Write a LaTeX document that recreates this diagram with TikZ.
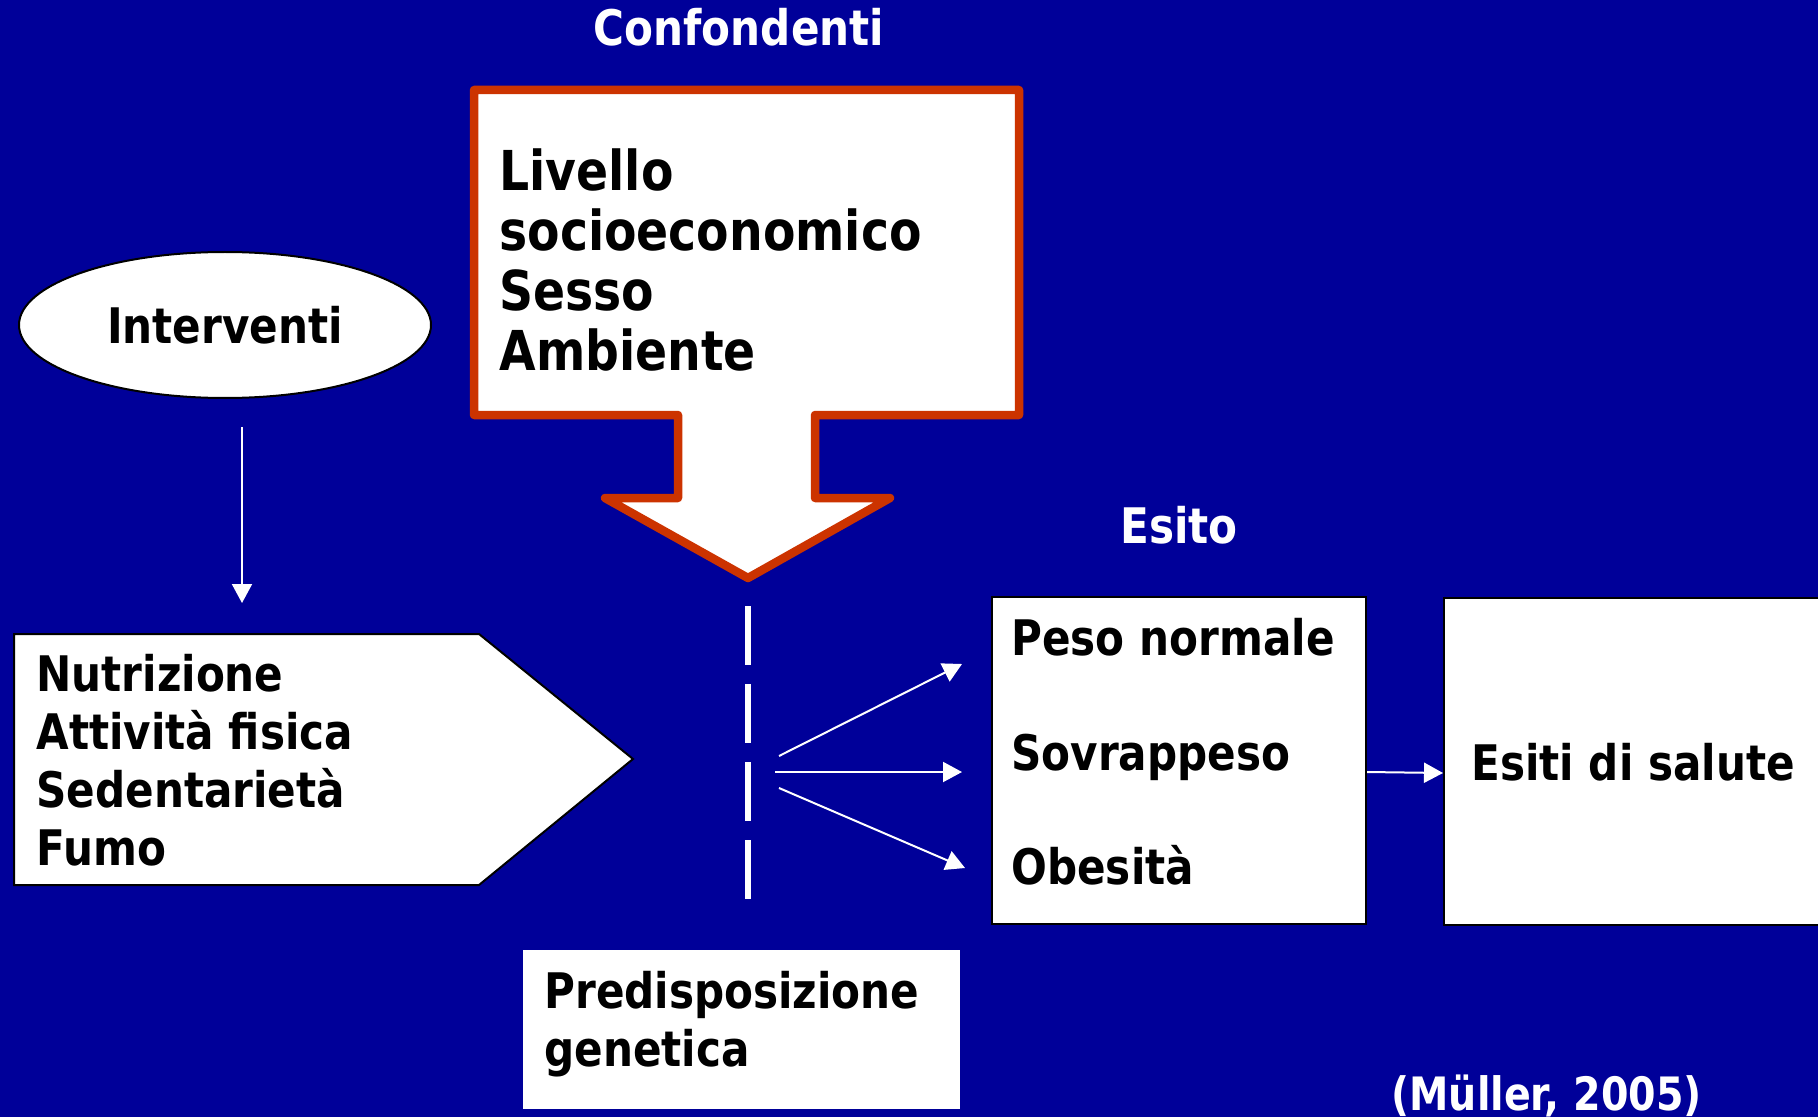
\documentclass[tikz,border=0pt]{standalone}
\usepackage{fontspec}
\setmainfont{DejaVu Sans}[FakeStretch=0.86]
\usetikzlibrary{arrows.meta,shapes.geometric}

\definecolor{slideblue}{RGB}{0,0,153}
\definecolor{confred}{RGB}{204,51,0}

\tikzset{
	txt/.style={font=\bfseries\fontsize{24.5pt}{29pt}\selectfont, inner sep=0pt, align=left},
	wtxt/.style={txt, text=white},
	box/.style={draw=black, line width=1pt, fill=white},
	arr/.style={draw=white, line width=1pt, -{Triangle[length=9.5pt,width=10pt]}},
}

\begin{document}
\begin{tikzpicture}[x=0.5pt, y=-0.5pt]

	% slide background
	\fill[slideblue] (0,0) rectangle (1818,1117);
	\useasboundingbox (0,0) rectangle (1818,1117);

	% titles
	\node[wtxt, anchor=base] (conf) at (739,46) {Confondenti};
	\node[wtxt, anchor=base] (esitolab) at (1179,543) {Esito};

	% confounders arrow
	\draw[confred, line width=4.25pt, fill=white, line join=round]
	(474,90) -- (1019,90) -- (1019,415) -- (815,415) -- (815,498)
	-- (890,498) -- (748,578) -- (605,498) -- (678,498) -- (678,415)
	-- (474,415) -- cycle;
	% base anchor sits on the last line
	\node[txt, font=\bfseries\fontsize{27.5pt}{30pt}\selectfont, anchor=base west]
	(conftxt) at (499,371) {Livello\\socioeconomico\\Sesso\\Ambiente};

	% interventions
	\node[box, ellipse, minimum width=206pt, minimum height=73pt, txt]
	(interv) at (225,325) {Interventi};
	\coordinate (iv1) at (242,427);
	\coordinate (iv2) at (242,603);
	\draw[arr] (iv1) -- (iv2);

	% exposure arrow
	\draw[box] (14,634) -- (479,634) -- (633,759) -- (479,885) -- (14,885) -- cycle;
	\node[txt, anchor=base west] (nutr) at (36,865)
	{Nutrizione\\Attività fisica\\Sedentarietà\\Fumo};

	% dashed barrier
	\coordinate (dl1) at (748,606);
	\coordinate (dl2) at (748,901);
	\draw[white, line width=3pt, dash pattern=on 29.5pt off 9.5pt] (dl1) -- (dl2);

	% outcome box
	\node[box, minimum width=187pt, minimum height=163.5pt, inner sep=0pt]
	(esito) at (1179,760.5) {};
	\node[txt, anchor=base west] (peso) at (1011,655) {Peso normale};
	\node[txt, anchor=base west] (sovr) at (1011,770) {Sovrappeso};
	\node[txt, anchor=base west] (obes) at (1011,884) {Obesità};

	% arrows to outcome
	\coordinate (s1) at (779,756);
	\coordinate (s2) at (775,772);
	\coordinate (s3) at (779,788);
	\coordinate (e1) at (962,664);
	\coordinate (e2) at (962,772);
	\coordinate (e3) at (965,868);
	\draw[arr] (s1) -- (e1);
	\draw[arr] (s2) -- (e2);
	\draw[arr] (s3) -- (e3);

	% health outcomes
	\node[box, anchor=north west, minimum width=200pt, minimum height=163.5pt, inner sep=0pt]
	(salute) at (1443,597) {};
	\node[txt, anchor=base west] (salutetxt) at (1471,780) {Esiti di salute};
	\draw[arr] ([yshift=-5.75pt]esito.east) -- ([yshift=-5.75pt]salute.west);

	% genetics
	\node[fill=white, anchor=north west, minimum width=218.5pt, minimum height=79.5pt, inner sep=0pt]
	(gen) at (523,950) {};
	\node[txt, anchor=base west] (gentxt) at (544,1066) {Predisposizione\\genetica};

	% source
	\node[wtxt, font=\bfseries\fontsize{23pt}{27pt}\selectfont, anchor=base west]
	(ref) at (1391,1110) {(Müller, 2005)};

\end{tikzpicture}
\end{document}
